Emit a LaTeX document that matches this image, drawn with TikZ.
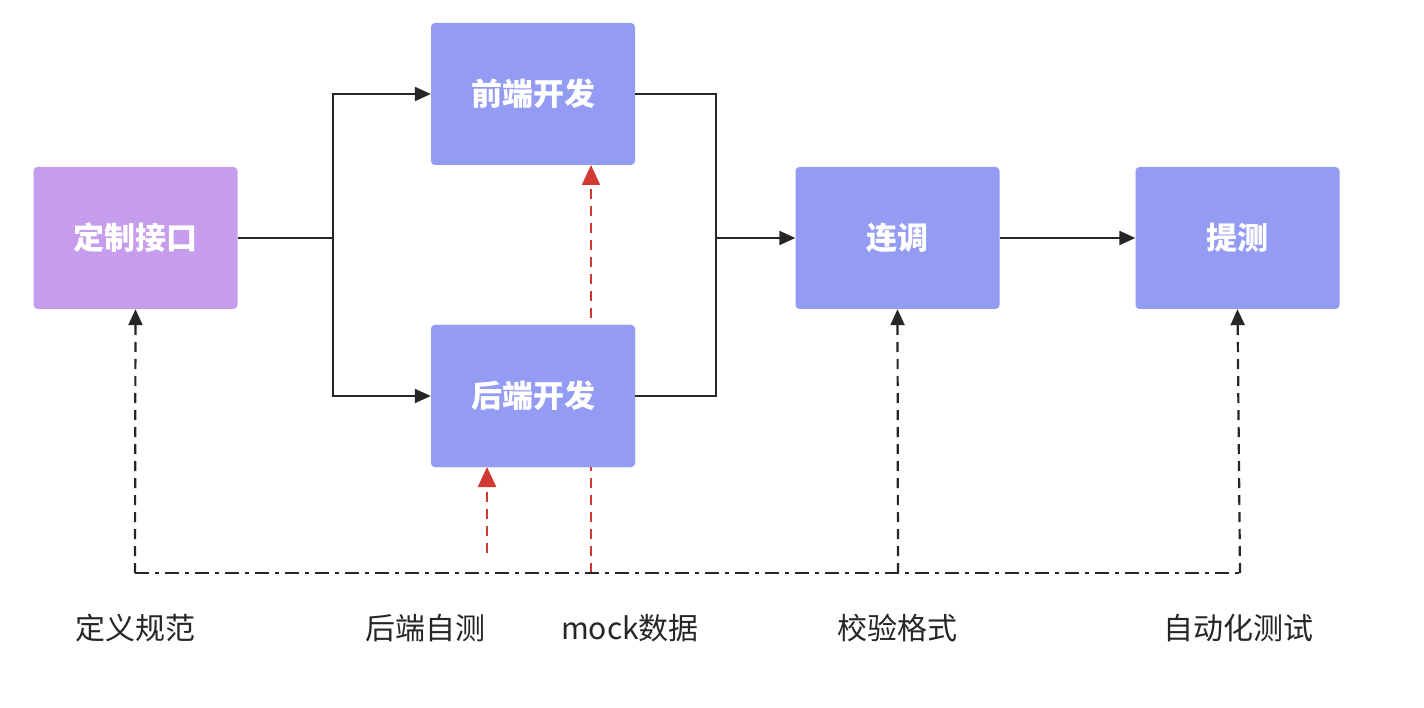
\documentclass[tikz,border=0pt]{standalone}
\usepackage{fontspec}
\setmainfont{Noto Sans CJK SC}
\usetikzlibrary{arrows.meta}
\definecolor{boxb}{HTML}{949BF2}
\definecolor{boxp}{HTML}{C69CEC}
\definecolor{redd}{HTML}{D03A32}
\begin{document}
\begin{tikzpicture}[x=1pt,y=-1pt,
  box/.style={draw=none,fill=boxb,rounded corners=4pt,minimum width=204pt,minimum height=142pt,text=white,font=\fontsize{31}{36}\selectfont\bfseries},
  lbl/.style={font=\fontsize{30}{36}\selectfont,text=black!85},
  ar/.style={line width=2.2pt,draw=black!85,-{Triangle[length=16pt,width=14pt]}},
  ln/.style={line width=2.2pt,draw=black!85},
  dd/.style={line width=2.2pt,draw=black!85,dash pattern=on 14pt off 6pt on 4pt off 6pt},
  dar/.style={line width=2.2pt,draw=black!85,dash pattern=on 10pt off 7pt,-{Triangle[length=16pt,width=14pt]}},
  rar/.style={line width=2.2pt,draw=redd,dash pattern=on 10pt off 7pt,-{Triangle[length=20pt,width=18pt]}}]
\useasboundingbox (0,0) rectangle (1424,708);
\fill[white] (0,0) rectangle (1424,708);
\node[box,fill=boxp] (a) at (135.5,238) {定制接口};
\node[box] (f) at (533,94) {前端开发};
\node[box] (b) at (533,396) {后端开发};
\node[box] (c) at (897.5,238) {连调};
\node[box] (d) at (1237.5,238) {提测};
\coordinate (s) at (333,238);
\coordinate (m) at (716,238);
\draw[rar] (591,573) -- (591,165);
\node[box] at (533,396) {后端开发};
\draw[ln] (a.east) -- (s);
\draw[ar] (s) |- (f.west);
\draw[ar] (s) |- (b.west);
\draw[ln] (f.east) -| (m);
\draw[ln] (b.east) -| (m);
\draw[ar] (m) -- (c.west);
\draw[ar] (c.east) -- (d.west);
\coordinate (l1) at (135,573);
\coordinate (l2) at (1240,573);
\draw[dd] (l1) -- (l2);
\draw[dar] (l1) -- (a.south);
\draw[dar] (898,573) -- (c.south);
\draw[dar] (l2) -- (d.south);
\draw[rar] (487,553) -- (487,467);
\node[lbl] (t1) at (135,628) {定义规范};
\node[lbl] (t2) at (425,628) {后端自测};
\node[lbl] (t3) at (630,628) {mock数据};
\node[lbl] (t4) at (897,628) {校验格式};
\node[lbl] (t5) at (1238,628) {自动化测试};
\end{tikzpicture}
\end{document}
